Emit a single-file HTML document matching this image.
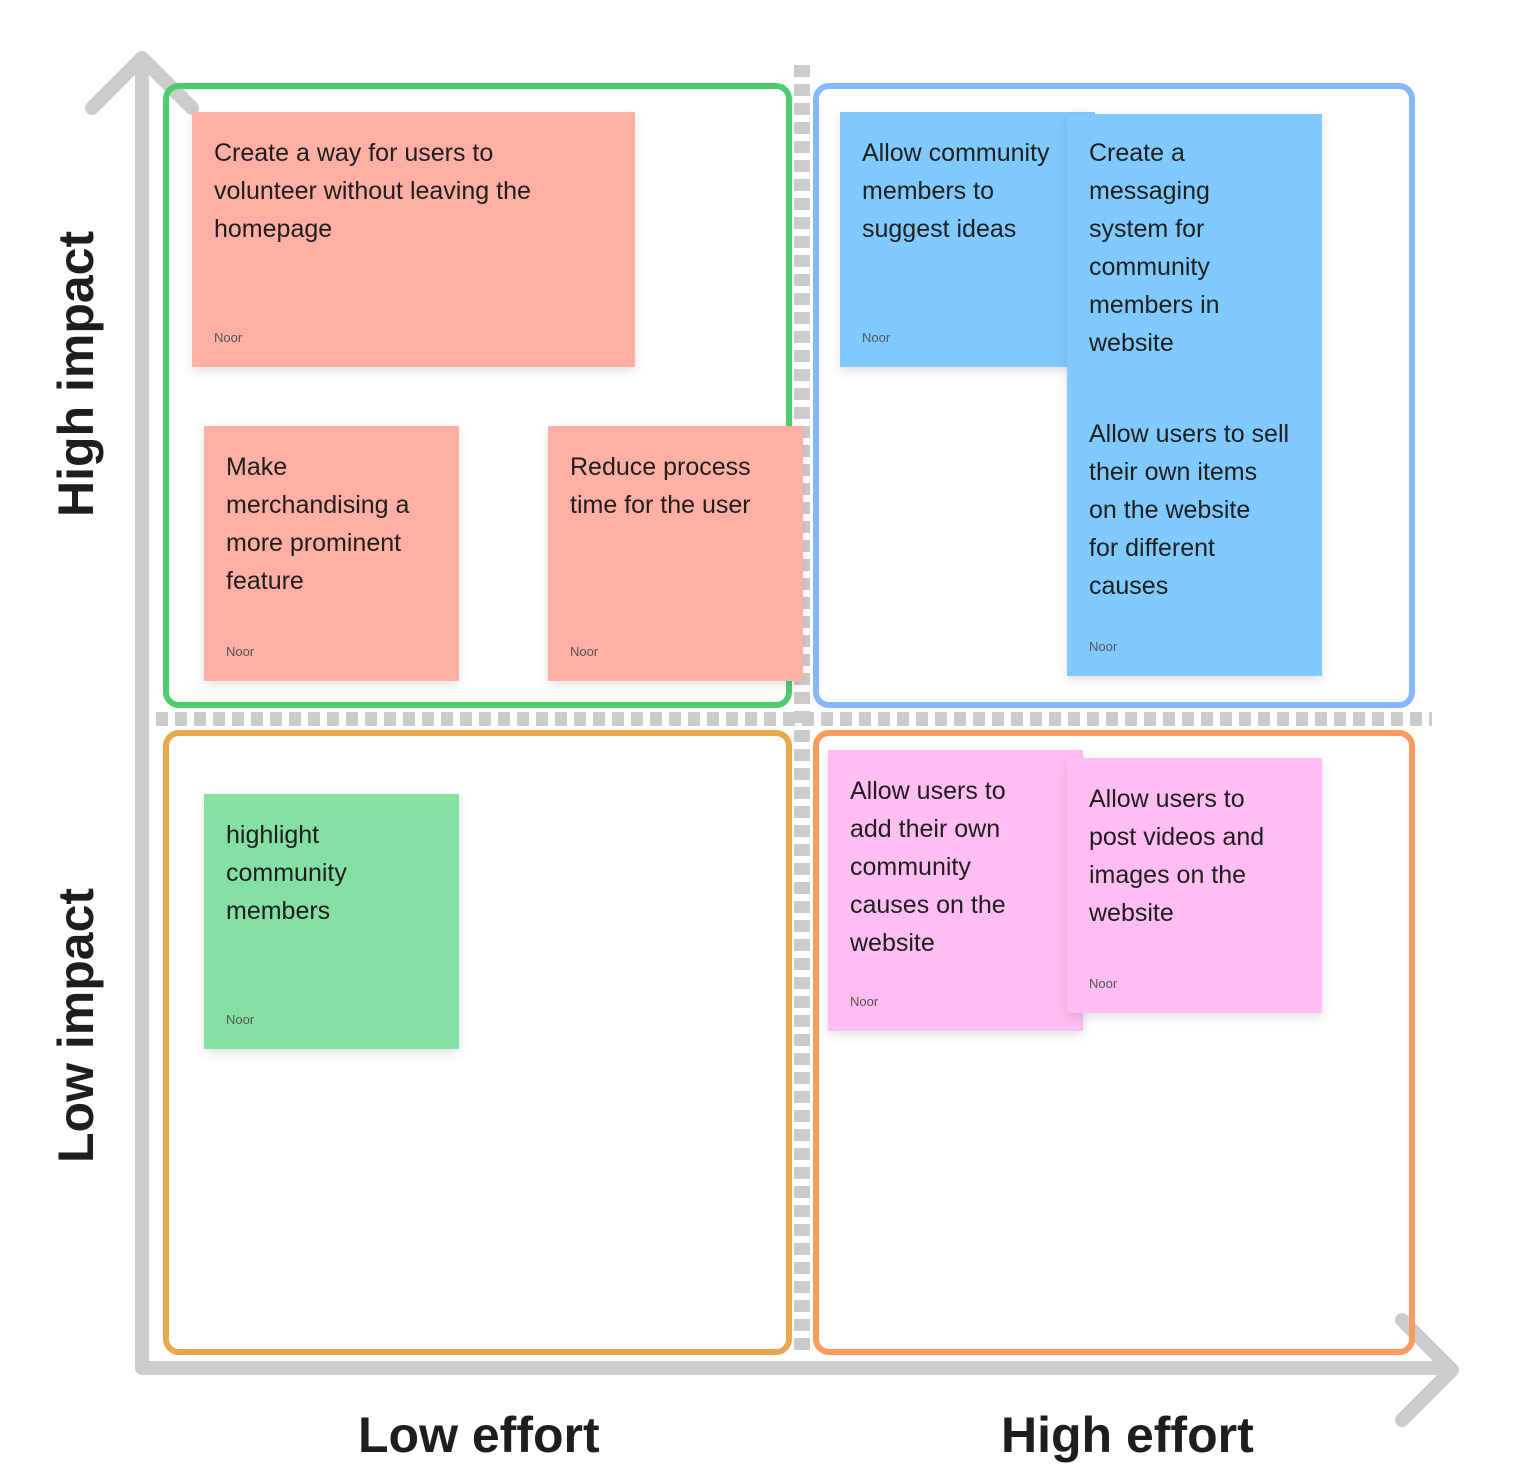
<!DOCTYPE html>
<html><head><style>
html,body{margin:0;padding:0;background:#fff;}
body{width:1515px;height:1468px;position:relative;overflow:hidden;font-family:"Liberation Sans",sans-serif;}
.box{position:absolute;border:6px solid;border-radius:16px;box-sizing:border-box;}
.n{position:absolute;box-sizing:border-box;padding:22px 22px;font-size:25px;line-height:38px;color:#1e1e1e;box-shadow:0 4px 10px rgba(0,0,0,0.12);white-space:nowrap;}
.n .a{position:absolute;left:22px;font-size:13px;color:#555;line-height:14px;}
.r{background:#ffafa3;}.b{background:#80caff;}.p{background:#ffbdf2;}.g{background:#85e0a3;}
.lbl{position:absolute;font-weight:bold;font-size:50px;color:#1e1e1e;}
</style></head><body>
<svg width="1515" height="1468" style="position:absolute;left:0;top:0">
<g stroke="#cdcbcb" stroke-width="14" fill="none" stroke-linecap="round" stroke-linejoin="round">
<path d="M142 62 V1368 H1450"/>
<path d="M92 108 L142 58 L192 108"/>
<path d="M1402 1320 L1452 1370 L1402 1420"/>
</g>
<line x1="802" y1="65" x2="802" y2="1352" stroke="#cdcbcb" stroke-width="16" stroke-dasharray="12 7"/>
<line x1="156" y1="719" x2="1432" y2="719" stroke="#cdcbcb" stroke-width="14" stroke-dasharray="12 7"/>
</svg>
<div class="box" style="left:163px;top:83px;width:629px;height:625px;border-color:#4fcc6e"></div>
<div class="box" style="left:813px;top:83px;width:602px;height:625px;border-color:#85b8ff"></div>
<div class="box" style="left:163px;top:730px;width:629px;height:625px;border-color:#e8a84f"></div>
<div class="box" style="left:813px;top:730px;width:602px;height:625px;border-color:#ff9b5c"></div>

<div class="n r" style="left:192px;top:112px;width:443px;height:255px">Create a way for users to<br>volunteer without leaving the<br>homepage<div class="a" style="top:219px">Noor</div></div>
<div class="n r" style="left:204px;top:426px;width:255px;height:255px">Make<br>merchandising a<br>more prominent<br>feature<div class="a" style="top:219px">Noor</div></div>
<div class="n r" style="left:548px;top:426px;width:255px;height:255px">Reduce process<br>time for the user<div class="a" style="top:219px">Noor</div></div>
<div class="n b" style="left:840px;top:112px;width:255px;height:255px">Allow community<br>members to<br>suggest ideas<div class="a" style="top:219px">Noor</div></div>
<div class="n b" style="left:1067px;top:114px;width:255px;height:562px;padding-top:20px">Create a<br>messaging<br>system for<br>community<br>members in<br>website<div style="margin-top:53px">Allow users to sell<br>their own items<br>on the website<br>for different<br>causes</div><div class="a" style="top:526px">Noor</div></div>
<div class="n g" style="left:204px;top:794px;width:255px;height:255px">highlight<br>community<br>members<div class="a" style="top:219px">Noor</div></div>
<div class="n p" style="left:828px;top:750px;width:255px;height:281px">Allow users to<br>add their own<br>community<br>causes on the<br>website<div class="a" style="top:245px">Noor</div></div>
<div class="n p" style="left:1067px;top:758px;width:255px;height:255px">Allow users to<br>post videos and<br>images on the<br>website<div class="a" style="top:219px">Noor</div></div>

<div class="lbl" style="left:358px;top:1406px">Low effort</div>
<div class="lbl" style="left:1001px;top:1406px">High effort</div>
<div class="lbl" style="left:48px;top:517px;transform:rotate(-90deg);transform-origin:0 0;white-space:nowrap;line-height:56px">High impact</div>
<div class="lbl" style="left:48px;top:1163px;transform:rotate(-90deg);transform-origin:0 0;white-space:nowrap;line-height:56px">Low impact</div>
</body></html>
